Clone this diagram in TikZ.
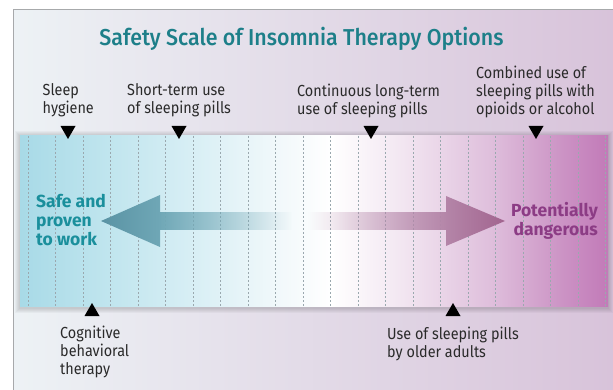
\documentclass[tikz,border=0pt]{standalone}
\usepackage{fontspec}
\setmainfont{Fira Sans}[FakeStretch=0.9]
\newfontfamily\titlefont{Fira Sans Medium}[FakeStretch=0.93]
\newfontfamily\endfont{Fira Sans}
\usetikzlibrary{fadings}

% palette
\definecolor{frameline}{HTML}{A7A9AB}
\definecolor{bgL}{HTML}{EDF2F5}
\definecolor{bgM}{HTML}{EDEBF0}
\definecolor{bgR}{HTML}{D8C3DA}
\definecolor{bandA}{HTML}{A8DAE7}
\definecolor{bandB}{HTML}{C0E5EE}
\definecolor{bandC}{HTML}{D9EFF5}
\definecolor{bandD}{HTML}{F3F9FB}
\definecolor{bandE}{HTML}{FFFFFF}
\definecolor{bandF}{HTML}{F2E6F1}
\definecolor{bandG}{HTML}{DFBFDC}
\definecolor{bandH}{HTML}{CC94C5}
\definecolor{bandI}{HTML}{C27AB8}
\definecolor{tickgray}{HTML}{9AA8AE}
\definecolor{titleteal}{HTML}{1D7F89}
\definecolor{safeteal}{HTML}{1A8F9C}
\definecolor{dangerpurple}{HTML}{8C3C85}
\definecolor{labeltext}{HTML}{2A2A2A}
\definecolor{tealTip}{HTML}{5A93A4}
\definecolor{tealBack}{HTML}{6FA7B6}
\definecolor{mauveTip}{HTML}{A2648F}
\definecolor{mauveBack}{HTML}{B485A8}

% colour run of the scale band (band spans 25bp..75bp)
\pgfdeclarehorizontalshading{bandshade}{100bp}{%
  color(0bp)=(bandA); color(25bp)=(bandA); color(32.5bp)=(bandB);
  color(40bp)=(bandC); color(47.5bp)=(bandD); color(51.5bp)=(bandE);
  color(57.5bp)=(bandF); color(65bp)=(bandG); color(71bp)=(bandH);
  color(75bp)=(bandI); color(100bp)=(bandI)}

\tikzfading[name=fade out right, left color=transparent!0, right color=transparent!100]
\tikzfading[name=fade in right, left color=transparent!100, right color=transparent!0]

% multi-line nodes sit on the baseline of their last line
\tikzset{
  label/.style={anchor=base west, align=left, inner sep=0pt, text=labeltext,
    font=\fontsize{16}{18}\selectfont},
  endlabel/.style={inner sep=0pt, font=\endfont\bfseries\fontsize{17.5}{19.5}\selectfont},
  tickline/.style={draw=tickgray, line width=0.4pt, dash pattern=on 2pt off 2pt},
  downmark/.pic={\fill[black] (-7.5,0) -- (7.5,0) -- (0,13) -- cycle;},
  upmark/.pic={\fill[black] (-7.5,0) -- (7.5,0) -- (0,-13) -- cycle;},
}

\begin{document}
\begin{tikzpicture}[x=1pt, y=-1pt]
  \useasboundingbox (0,0) rectangle (613,390);
  \fill[white] (0,0) rectangle (613,390);

  % panel background and its frame
  \shade[left color=bgL, middle color=bgM, right color=bgR] (13,9.5) rectangle (613,390);
  \draw[frameline, line width=1pt] (13,390) -- (13,9.5) -- (613,9.5);

  % title
  \node (title) [anchor=base, inner sep=0pt, text=titleteal,
    font=\titlefont\fontsize{23}{26}\selectfont] at (301.5,46)
    {Safety Scale of Insomnia Therapy Options};

  % soft shadow under the band
  \foreach \i in {1,...,5}
    \fill[black, opacity=0.03] (20-\i,136-\i+0.5) rectangle (608+\i,306+\i+1.5);

  % scale band
  \shade[shading=bandshade] (20,136) rectangle (608,306);
  \foreach \k in {0,...,21}
    \draw[tickline] ({28+27.5*\k},136) -- ({28+27.5*\k},306);

  % arrow towards the safe end
  \fill[tealBack, path fading=fade out right] (158,212) rectangle (292,230);
  \shade[left color=tealTip, right color=tealBack]
    (160,195) -- (101,221) -- (160,247) -- cycle;

  % arrow towards the dangerous end
  \fill[mauveBack, path fading=fade in right] (308,212) rectangle (448,230);
  \shade[left color=mauveBack, right color=mauveTip]
    (446,196) -- (505,221) -- (446,246) -- cycle;

  % end labels
  \node (safe) [endlabel, anchor=base west, align=left, text=safeteal] at (36,246)
    {Safe and\\proven\\to work};
  \node (danger) [endlabel, anchor=base east, align=right, text=dangerpurple] at (598,236)
    {Potentially\\dangerous};

  % markers above the band
  \pic (mSleep) at (68,126) {downmark};
  \pic (mShort) at (179,126) {downmark};
  \pic (mLong) at (371,126) {downmark};
  \pic (mCombined) at (536,126) {downmark};
  % markers below the band
  \pic (mCBT) at (92,316) {upmark};
  \pic (mOlder) at (453,316) {upmark};

  % marker labels
  \node (lSleep) [label] at (42.5,114) {Sleep\\hygiene};
  \node (lShort) [label] at (127,114) {Short-term use\\of sleeping pills};
  \node (lLong) [label] at (297,115) {Continuous long-term\\use of sleeping pills};
  \node (lCombined) [label] at (476,115) {Combined use of\\sleeping pills with\\opioids or alcohol};
  \node (lCBT) [label] at (60,374) {Cognitive\\behavioral\\therapy};
  \node (lOlder) [label] at (387,357) {Use of sleeping pills\\by older adults};
\end{tikzpicture}
\end{document}
